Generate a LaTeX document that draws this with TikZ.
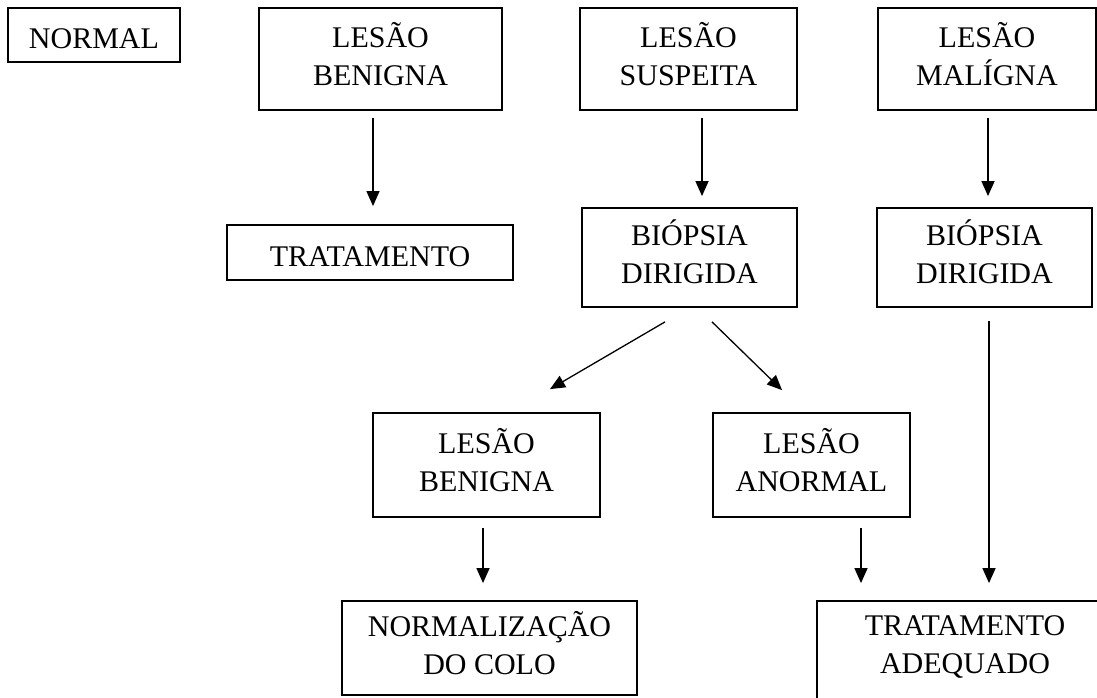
\documentclass[tikz,border=0pt]{standalone}
\usepackage{fontspec}
\setmainfont{Liberation Serif}
\usetikzlibrary{arrows.meta,calc}
\begin{document}
\begin{tikzpicture}[x=1pt,y=-1pt,
  box/.style={draw, line width=1.8pt, inner sep=0pt, align=center,
    font=\fontsize{30}{38}\selectfont, text depth=11pt},
  onebox/.style={box, text height=27pt, text depth=0pt},
  arr/.style={-{Triangle[length=15pt,width=13pt]}, line width=1.3pt}]
\useasboundingbox (0,0) rectangle (1097,698);
\clip (0,0) rectangle (1097,698);

\node[onebox, minimum width=172pt, minimum height=54pt] (normal) at (94,35) {NORMAL};
\node[box, minimum width=243pt, minimum height=102pt] (b1) at (380.5,59) {LESÃO\\BENIGNA};
\node[box, minimum width=217pt, minimum height=102pt] (s1) at (688.5,59) {LESÃO\\SUSPEITA};
\node[box, minimum width=218pt, minimum height=102pt] (m1) at (987,59) {LESÃO\\MALÍGNA};

\node[onebox, minimum width=286pt, minimum height=55pt] (t1) at (370,252.5) {TRATAMENTO};
\node[box, minimum width=215pt, minimum height=99pt] (bd1) at (689.5,257.5) {BIÓPSIA\\DIRIGIDA};
\node[box, minimum width=215pt, minimum height=99pt] (bd2) at (984.5,257.5) {BIÓPSIA\\DIRIGIDA};

\node[box, minimum width=227pt, minimum height=104pt] (b2) at (486.5,465) {LESÃO\\BENIGNA};
\node[box, minimum width=197pt, minimum height=104pt] (an) at (811.5,465) {LESÃO\\ANORMAL};

\node[box, minimum width=295pt, minimum height=94pt] (nc) at (489.5,648) {NORMALIZAÇÃO\\DO COLO};
\node[box, minimum width=296pt, minimum height=99pt] (ta) at (965,650.5) {TRATAMENTO\\ADEQUADO};

\draw[arr] ($(b1.south)+(-7.5,7)$) -- ($(b1.south |- t1.north)+(-7.5,-18)$);
\draw[arr] ($(s1.south)+(13.5,7)$) -- ($(s1.south |- bd1.north)+(13.5,-11)$);
\draw[arr] ($(m1.south)+(1,7)$) -- ($(m1.south |- bd2.north)+(1,-11)$);
\draw[arr] ($(bd1.south)+(-24.5,14)$) -- ($(b2.north)+(63.5,-23)$);
\draw[arr] ($(bd1.south)+(22.5,14)$) -- ($(an.north)+(-29.5,-22)$);
\draw[arr] ($(b2.south)+(-3.5,10)$) -- ($(b2.south |- nc.north)+(-3.5,-17)$);
\draw[arr] ($(an.south)+(49.5,10)$) -- ($(an.south |- ta.north)+(49.5,-17)$);
\draw[arr] ($(bd2.south)+(4.5,13)$) -- ($(bd2.south |- ta.north)+(4.5,-17)$);
\end{tikzpicture}
\end{document}
